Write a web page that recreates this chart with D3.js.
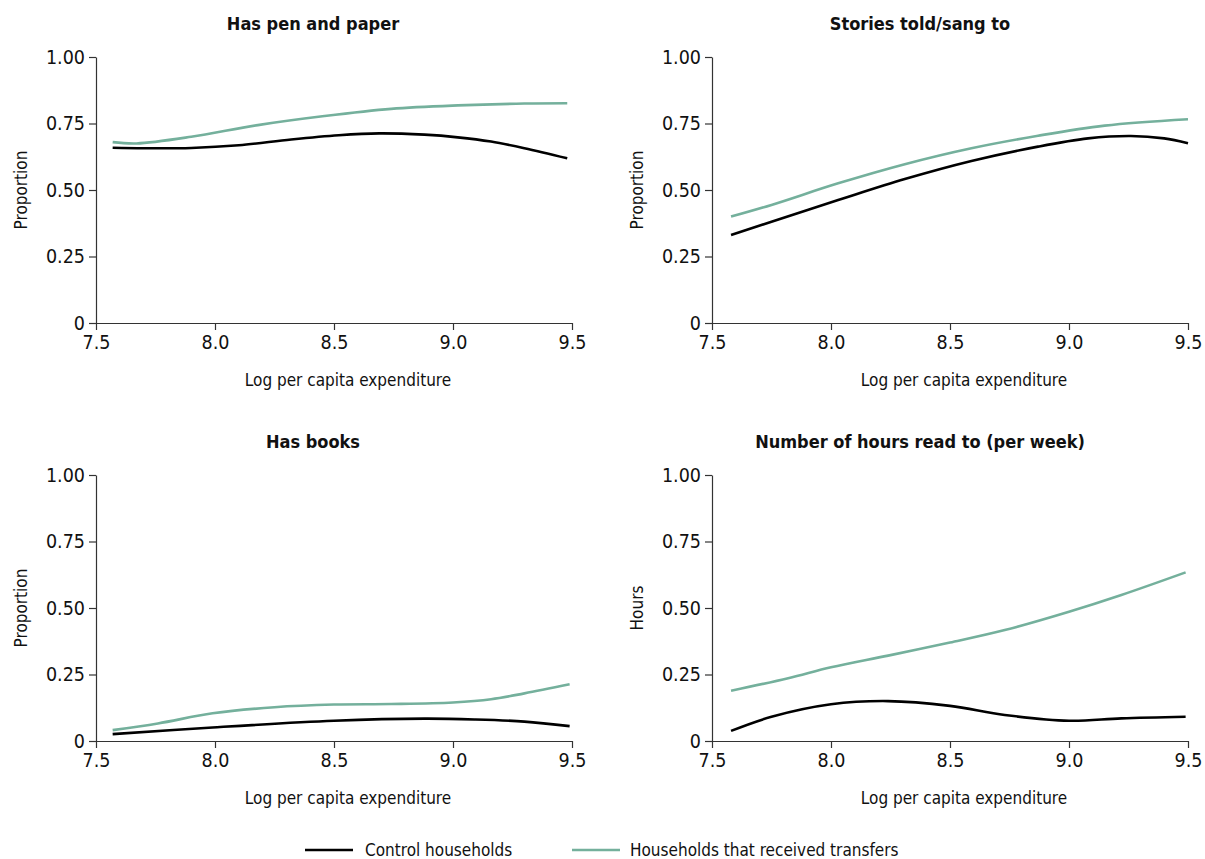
<!DOCTYPE html>
<html>
<head>
<meta charset="utf-8">
<script src="https://cdn.jsdelivr.net/npm/d3@7"></script>
<style>
  body { margin: 0; background: #fff; }
  svg text { font-family: "DejaVu Sans Condensed", "Liberation Sans Narrow", sans-serif; font-stretch: condensed; fill: #111; }
</style>
</head>
<body>
<svg id="chart" width="1205" height="859"></svg>
<script>
// ---- Data ----
const xTicks = [7.5, 8.0, 8.5, 9.0, 9.5];
const yTicks = [0, 0.25, 0.5, 0.75, 1.0];
const seriesNames = ["Control households", "Households that received transfers"];
const seriesColors = ["#000000", "#74b09c"];

const panelTitles = ["Has pen and paper", "Stories told/sang to", "Has books", "Number of hours read to (per week)"];
const yTitles = ["Proportion", "Proportion", "Proportion", "Hours"];
const xTitle = "Log per capita expenditure";

// Panel 1: Has pen and paper
const penControlX = [7.57, 7.70, 7.90, 8.10, 8.32, 8.52, 8.69, 8.88, 9.02, 9.16, 9.30, 9.48];
const penControlY = [0.659, 0.657, 0.658, 0.668, 0.690, 0.706, 0.713, 0.708, 0.698, 0.682, 0.657, 0.619];
const penTransferX = [7.57, 7.67, 7.90, 8.18, 8.46, 8.74, 9.02, 9.30, 9.48];
const penTransferY = [0.680, 0.675, 0.700, 0.744, 0.778, 0.805, 0.818, 0.825, 0.826];

// Panel 2: Stories told/sang to
const storyControlX = [7.58, 7.75, 8.03, 8.31, 8.59, 8.87, 9.08, 9.26, 9.40, 9.50];
const storyControlY = [0.331, 0.381, 0.462, 0.541, 0.609, 0.663, 0.694, 0.703, 0.694, 0.676];
const storyTransferX = [7.58, 7.75, 8.03, 8.31, 8.59, 8.87, 9.15, 9.50];
const storyTransferY = [0.400, 0.444, 0.525, 0.597, 0.657, 0.704, 0.742, 0.766];

// Panel 3: Has books
const booksControlX = [7.57, 7.99, 8.50, 8.88, 9.09, 9.30, 9.49];
const booksControlY = [0.026, 0.051, 0.076, 0.084, 0.081, 0.073, 0.056];
const booksTransferX = [7.57, 7.76, 7.99, 8.25, 8.50, 8.74, 9.00, 9.16, 9.30, 9.49];
const booksTransferY = [0.041, 0.066, 0.104, 0.127, 0.137, 0.139, 0.145, 0.157, 0.179, 0.213];

// Panel 4: Number of hours read to
const hoursControlX = [7.58, 7.75, 8.00, 8.24, 8.50, 8.73, 9.00, 9.22, 9.49];
const hoursControlY = [0.038, 0.091, 0.138, 0.150, 0.132, 0.098, 0.076, 0.085, 0.091];
const hoursTransferX = [7.58, 7.82, 8.00, 8.24, 8.50, 8.73, 9.00, 9.22, 9.49];
const hoursTransferY = [0.189, 0.236, 0.277, 0.321, 0.370, 0.417, 0.486, 0.549, 0.634];

const panels = [
  { title: panelTitles[0], yTitle: yTitles[0], series: [[penControlX, penControlY], [penTransferX, penTransferY]] },
  { title: panelTitles[1], yTitle: yTitles[1], series: [[storyControlX, storyControlY], [storyTransferX, storyTransferY]] },
  { title: panelTitles[2], yTitle: yTitles[2], series: [[booksControlX, booksControlY], [booksTransferX, booksTransferY]] },
  { title: panelTitles[3], yTitle: yTitles[3], series: [[hoursControlX, hoursControlY], [hoursTransferX, hoursTransferY]] }
];

// ---- Layout ----
const svg = d3.select("#chart");
const plotW = 476, plotH = 266;
const origins = [ [96, 57], [712, 57], [96, 475], [712, 475] ];
const FONT = '"DejaVu Sans Condensed", "Liberation Sans Narrow", sans-serif';

const fmtY = d => d === 0 ? "0" : d3.format(".2f")(d);
const fmtX = d3.format(".1f");

panels.forEach((p, i) => {
  const [ox, oy] = origins[i];
  const g = svg.append("g").attr("transform", `translate(${ox},${oy})`);
  const x = d3.scaleLinear().domain([7.5, 9.5]).range([0, plotW]);
  const y = d3.scaleLinear().domain([0, 1]).range([plotH, 0]);

  const xAxis = g.append("g").attr("transform", `translate(0,${plotH})`)
    .call(d3.axisBottom(x).tickValues(xTicks).tickFormat(fmtX).tickSize(7).tickSizeOuter(0).tickPadding(5));
  const yAxis = g.append("g")
    .call(d3.axisLeft(y).tickValues(yTicks).tickFormat(fmtY).tickSize(7).tickSizeOuter(0).tickPadding(4));
  [xAxis, yAxis].forEach(a => {
    a.select(".domain").attr("stroke", "#333").attr("stroke-width", 1.2);
    a.selectAll(".tick line").attr("stroke", "#333").attr("stroke-width", 1.2);
    a.selectAll(".tick text").attr("font-size", 19.5).attr("fill", "#111")
      .style("font-family", FONT).style("font-stretch", "condensed");
  });

  const line = d3.line().x(d => x(d[0])).y(d => y(d[1])).curve(d3.curveCatmullRom.alpha(0.5));
  p.series.forEach((s, k) => {
    const pts = s[0].map((xv, j) => [xv, s[1][j]]);
    g.append("path").datum(pts).attr("d", line)
      .attr("fill", "none").attr("stroke", seriesColors[k]).attr("stroke-width", 2.6)
      .attr("stroke-linejoin", "round");
  });

  // Titles
  g.append("text").attr("x", plotW / 2 - 21 - (i % 2) * 9).attr("y", -27)
    .attr("text-anchor", "middle").attr("font-size", 18).attr("font-weight", "bold").text(p.title);
  g.append("text").attr("x", plotW / 2 + 14).attr("y", plotH + 63)
    .attr("text-anchor", "middle").attr("font-size", 17).text(xTitle);
  g.append("text").attr("transform", `translate(-69,${plotH / 2}) rotate(-90)`)
    .attr("text-anchor", "middle").attr("font-size", 17).text(p.yTitle);
});

// ---- Legend ----
const legend = svg.append("g");
const legendItems = [ { lx: 305, tx: 365 }, { lx: 572, tx: 630 } ];
seriesNames.forEach((name, k) => {
  legend.append("line").attr("x1", legendItems[k].lx).attr("x2", legendItems[k].lx + 48)
    .attr("y1", 850).attr("y2", 850).attr("stroke", seriesColors[k]).attr("stroke-width", 2.6);
  legend.append("text").attr("x", legendItems[k].tx).attr("y", 850).attr("dy", "0.35em")
    .attr("font-size", 17).text(name);
});
</script>
</body>
</html>
